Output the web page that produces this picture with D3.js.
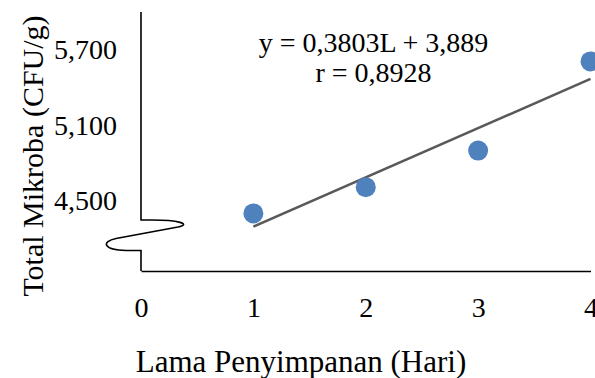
<!DOCTYPE html>
<html>
<head>
<meta charset="utf-8">
<script src="https://cdn.jsdelivr.net/npm/d3@7"></script>
<style>
  html, body { margin: 0; padding: 0; background: #fff; }
  svg { display: block; font-family: 'Liberation Serif', 'Times New Roman', serif; }
</style>
</head>
<body>
<div id="chart"></div>
<script>
const days = [1, 2, 3, 4]
const totalMikroba = [4397, 4606, 4897, 5607]
// trend line endpoints (at day 1 and day 4)
const trendDays = [1, 4]
const trendValues = [4292, 5468]
const xTicks = [0, 1, 2, 3, 4]
const yTicks = [4500, 5100, 5700]
const equationLines = ['y = 0,3803L + 3,889', 'r = 0,8928']

const w = 595
const h = 378
const axisBottomY = 271

const svg = d3.select('#chart').append('svg')
  .attr('width', w)
  .attr('height', h)

const x = d3.scaleLinear().domain([0, 4]).range([141, 590.5])
const y = d3.scaleLinear().domain([4500, 6000]).range([200.5, 12])

// x axis
const xAxis = svg.append('g')
  .attr('transform', 'translate(0,' + axisBottomY + ')')
  .call(d3.axisBottom(x).tickValues(xTicks).tickSize(0).tickSizeOuter(0).tickPadding(46).tickFormat(d3.format('d')))
xAxis.select('.domain').attr('stroke', '#000').attr('stroke-width', 1.6)
xAxis.selectAll('text')
  .attr('fill', '#000')
  .attr('font-family', 'Liberation Serif, serif')
  .attr('font-size', 28)
  .attr('dy', 0)

// y axis labels (the axis line itself is drawn with the break below)
const yAxis = svg.append('g')
  .attr('transform', 'translate(' + x(0) + ',0)')
  .call(d3.axisLeft(y).tickValues(yTicks).tickSize(0).tickPadding(24).tickFormat(d3.format(',')))
yAxis.select('.domain').remove()
yAxis.selectAll('text')
  .attr('fill', '#000')
  .attr('font-family', 'Liberation Serif, serif')
  .attr('font-size', 28)
  .attr('dy', '0.33em')

// broken y axis
const x0 = x(0)
svg.append('path')
  .attr('d', 'M' + x0 + ',' + y(6000) + ' V220 L152,220 C178,220 192,224 178,227 L116,238.5 ' +
    'C101,241.5 103,250 126,250.5 L' + x0 + ',250.5 V' + axisBottomY)
  .attr('fill', 'none')
  .attr('stroke', '#000')
  .attr('stroke-width', 1.6)

// trend line
const line = d3.line()
  .x(d => x(d[0]))
  .y(d => y(d[1]))
svg.append('path')
  .datum(d3.zip(trendDays, trendValues))
  .attr('d', line)
  .attr('fill', 'none')
  .attr('stroke', '#595959')
  .attr('stroke-width', 2.5)

// points
svg.selectAll('circle')
  .data(d3.zip(days, totalMikroba))
  .enter().append('circle')
  .attr('cx', d => x(d[0]))
  .attr('cy', d => y(d[1]))
  .attr('r', 10)
  .attr('fill', '#4F81BD')

// equation
svg.append('g').selectAll('text')
  .data(equationLines)
  .enter().append('text')
  .attr('x', 373.5)
  .attr('y', (d, i) => 52 + i * 30)
  .attr('text-anchor', 'middle')
  .attr('font-size', 28)
  .text(d => d)

// axis titles
svg.append('text')
  .attr('x', 301)
  .attr('y', 372)
  .attr('text-anchor', 'middle')
  .attr('font-size', 31)
  .text('Lama Penyimpanan (Hari)')

svg.append('text')
  .attr('transform', 'translate(43,156) rotate(-90)')
  .attr('text-anchor', 'middle')
  .attr('font-size', 30)
  .text('Total Mikroba (CFU/g)')
</script>
</body>
</html>
